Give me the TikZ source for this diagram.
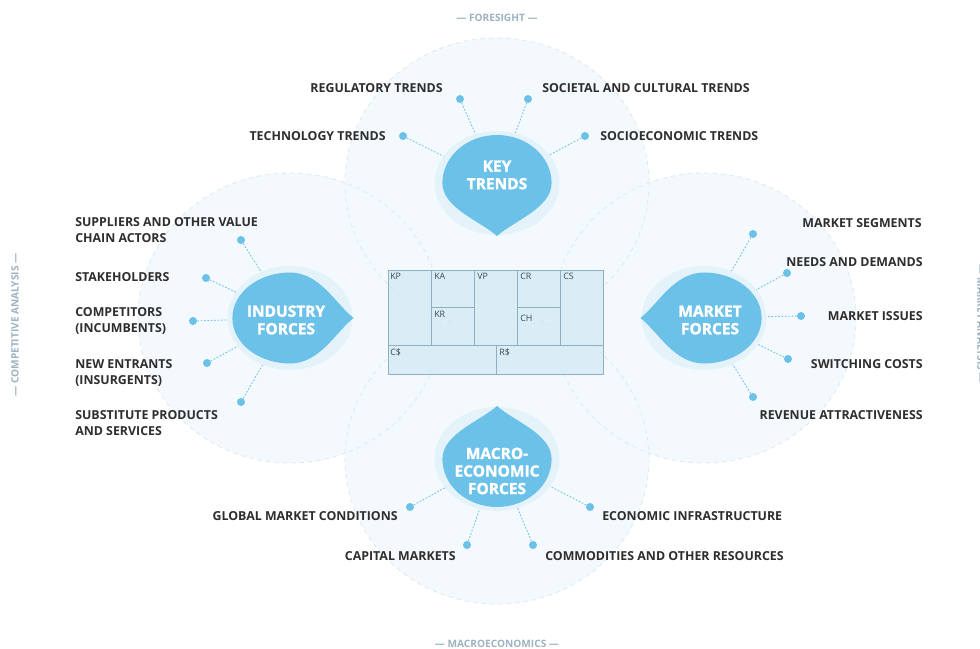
\documentclass[tikz,border=0pt]{standalone}
\usepackage{fontspec}
\setmainfont{Open Sans}
\newfontfamily\heavyfont{Open Sans}[BoldFeatures={FakeBold=1.6}]
\usetikzlibrary{positioning}

\definecolor{dropblue}{HTML}{6CC1E9}
\definecolor{haloblue}{HTML}{E4F3FA}
\definecolor{ringfill}{HTML}{F3F9FD}
\definecolor{ringline}{HTML}{DCEAF2}
\definecolor{inkgray}{HTML}{2E2E2E}
\definecolor{axisgray}{HTML}{9DB3C0}
\definecolor{canvasfill}{HTML}{D0E9F4}
\definecolor{canvasline}{HTML}{8FB0C2}
\definecolor{canvastext}{HTML}{3A4A55}

% drop shape: #1 centre, #2 direction of the tip
\newcommand{\teardrop}[2]{%
  \begin{scope}[shift={#1}, xscale=1.2, rotate=#2]
    \fill[haloblue] (0,0) circle[radius=52];
    \fill[dropblue] (0,45.5) arc[start angle=90, end angle=270, x radius=48, y radius=45.5]
      .. controls (25,-45.5) and (38,-14) .. (53,0)
      .. controls (38,14) and (25,45.5) .. (0,45.5) -- cycle;
  \end{scope}}

\begin{document}
\begin{tikzpicture}[x=0.025cm, y=-0.025cm,
  ring/.style={fill=ringfill},
  ringedge/.style={draw=ringline, dashed, line width=0.6pt},
  dot/.style={circle, fill=dropblue, inner sep=0pt, minimum size=0.2cm},
  link/.style={draw=dropblue, line width=0.6pt, dash pattern=on 1.2pt off 1.2pt},
  lbl/.style={text=inkgray, inner sep=0pt, align=left, font=\fontsize{8.8}{11.4}\selectfont\bfseries},
  force/.style={text=white, align=center, inner sep=0pt, font=\heavyfont\fontsize{11}{12.5}\selectfont\bfseries},
  axis/.style={text=axisgray, inner sep=0pt, font=\fontsize{7.2}{8}\selectfont\bfseries},
  cell/.style={draw=canvasline, line width=0.5pt},
  tag/.style={anchor=north west, inner sep=0pt, text=canvastext, font=\fontsize{6.3}{7}\selectfont}]

  \useasboundingbox[fill=white] (0,0) rectangle (980,649);

  \coordinate (kt) at (497,183);
  \coordinate (if) at (290,318);
  \coordinate (mf) at (704,318);
  \coordinate (me) at (497,459);

  % the four pale rings
  \fill[ring] (kt) ellipse[x radius=152, y radius=145];
  \fill[ring] (if) ellipse[x radius=152, y radius=145];
  \fill[ring] (mf) ellipse[x radius=152, y radius=145];
  \fill[ring] (me) ellipse[x radius=152, y radius=145];
  \draw[ringedge] (kt) ellipse[x radius=152, y radius=145];
  \draw[ringedge] (if) ellipse[x radius=152, y radius=145];
  \draw[ringedge] (mf) ellipse[x radius=152, y radius=145];
  \draw[ringedge] (me) ellipse[x radius=152, y radius=145];

  % canvas in the middle
  \fill[canvasfill, fill opacity=0.7] (388,270) rectangle (603,374);
  \draw[cell] (388,270) rectangle (603,374)
    (431,270) -- (431,345) (474,270) -- (474,345) (517,270) -- (517,345) (560,270) -- (560,345)
    (388,345) -- (603,345) (431,307) -- (474,307) (517,307) -- (560,307) (496,345) -- (496,374);
  \node[tag] (kp) at (390,273) {KP};
  \node[tag] (ka) at (434,273) {KA};
  \node[tag] (kr) at (434,311) {KR};
  \node[tag] (vp) at (477,273) {VP};
  \node[tag] (cr) at (520,273) {CR};
  \node[tag] (ch) at (520,315) {CH};
  \node[tag] (cs) at (563,273) {CS};
  \node[tag] (co) at (390,348) {C\$};
  \node[tag] (rs) at (499,348) {R\$};

  % dots
  \node[dot] (reg) at (460,99) {};
  \node[dot] (soc) at (528,99) {};
  \node[dot] (tec) at (403,136) {};
  \node[dot] (sec) at (585,136) {};
  \node[dot] (sup) at (241,240) {};
  \node[dot] (sth) at (206,278) {};
  \node[dot] (cmp) at (193,321) {};
  \node[dot] (nen) at (207,363) {};
  \node[dot] (sub) at (241,402) {};
  \node[dot] (seg) at (753,234) {};
  \node[dot] (ned) at (787,273) {};
  \node[dot] (iss) at (801,316) {};
  \node[dot] (swi) at (788,359) {};
  \node[dot] (rev) at (753,397) {};
  \node[dot] (glo) at (410,507) {};
  \node[dot] (cap) at (467,545) {};
  \node[dot] (eco) at (590,507) {};
  \node[dot] (com) at (533,545) {};

  \path[link]
    (reg) edge (kt) (soc) edge (kt) (tec) edge (kt) (sec) edge (kt)
    (sup) edge (if) (sth) edge (if) (cmp) edge (if) (nen) edge (if) (sub) edge (if)
    (seg) edge (mf) (ned) edge (mf) (iss) edge (mf) (swi) edge (mf) (rev) edge (mf)
    (glo) edge (me) (cap) edge (me) (eco) edge (me) (com) edge (me);

  % the drops
  \teardrop{(kt)}{-90}
  \teardrop{(if)}{0}
  \teardrop{(mf)}{180}
  \teardrop{(me)}{90}
  \node[force] (kt-t) at (497,175) {KEY\\TRENDS};
  \node[force] (if-t) at (286,320) {INDUSTRY\\FORCES};
  \node[force] (mf-t) at (710,320) {MARKET\\FORCES};
  \node[force] (me-t) at (497,471) {MACRO-\\ECONOMIC\\FORCES};

  % labels
  \node[lbl, anchor=east] (reg-l) at (443,88) {REGULATORY TRENDS};
  \node[lbl, anchor=west] (soc-l) at (542,88) {SOCIETAL AND CULTURAL TRENDS};
  \node[lbl, anchor=east] (tec-l) at (386,136) {TECHNOLOGY TRENDS};
  \node[lbl, anchor=west] (sec-l) at (600,136) {SOCIOECONOMIC TRENDS};
  \node[lbl, anchor=west] (sup-l) at (75,230) {SUPPLIERS AND OTHER VALUE\\CHAIN ACTORS};
  \node[lbl, anchor=west] (sth-l) at (75,277) {STAKEHOLDERS};
  \node[lbl, anchor=west] (cmp-l) at (75,321) {COMPETITORS\\(INCUMBENTS)};
  \node[lbl, anchor=west] (nen-l) at (75,373) {NEW ENTRANTS\\(INSURGENTS)};
  \node[lbl, anchor=west] (sub-l) at (75,423) {SUBSTITUTE PRODUCTS\\AND SERVICES};
  \node[lbl, anchor=east] (seg-l) at (922,223) {MARKET SEGMENTS};
  \node[lbl, anchor=east] (ned-l) at (923,262) {NEEDS AND DEMANDS};
  \node[lbl, anchor=east] (iss-l) at (923,316) {MARKET ISSUES};
  \node[lbl, anchor=east] (swi-l) at (923,364) {SWITCHING COSTS};
  \node[lbl, anchor=east] (rev-l) at (923,415) {REVENUE ATTRACTIVENESS};
  \node[lbl, anchor=east] (glo-l) at (398,516) {GLOBAL MARKET CONDITIONS};
  \node[lbl, anchor=east] (cap-l) at (456,556) {CAPITAL MARKETS};
  \node[lbl, anchor=west] (eco-l) at (602,516) {ECONOMIC INFRASTRUCTURE};
  \node[lbl, anchor=west] (com-l) at (545,556) {COMMODITIES AND OTHER RESOURCES};

  % axis titles
  \node[axis] (fs) at (497,18) {— FORESIGHT —};
  \node[axis] (mc) at (497,644) {— MACROECONOMICS —};
  \node[axis, rotate=90] (ca) at (15,325) {— COMPETITIVE ANALYSIS —};
  \node[axis, rotate=-90] (ma) at (981,324) {— MARKET ANALYSIS —};
\end{tikzpicture}
\end{document}
